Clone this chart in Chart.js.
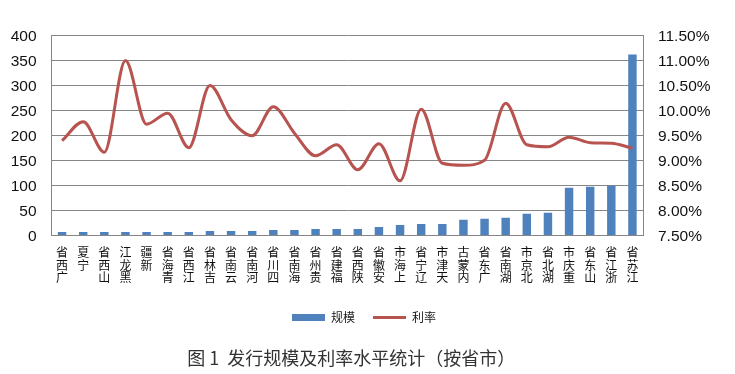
<!DOCTYPE html>
<html>
<head>
<meta charset="utf-8">
<style>
  html, body { margin: 0; padding: 0; background: #fff; }
  canvas { display: block; }
</style>
<script src="https://cdn.jsdelivr.net/npm/chart.js@4"></script>
</head>
<body>
<canvas id="chart" width="735" height="374"></canvas>
<script>
// Provinces, ordered by issue size
const categories = [
    "广西省", "宁夏", "山西省", "黑龙江", "新疆", "青海省", "江西省",
    "吉林省", "云南省", "河南省", "四川省", "海南省", "贵州省", "福建省",
    "陕西省", "安徽省", "上海市", "辽宁省", "天津市", "内蒙古", "广东省",
    "湖南省", "北京市", "湖北省", "重庆市", "山东省", "浙江省", "江苏省"
];

// 规模, left axis
const scaleValues = [
    7, 7, 7, 7, 7, 7, 7, 9, 9, 9, 11, 11, 13, 13,
    13, 17, 21, 23, 23, 31, 33, 35, 43, 45, 95, 97, 99, 361
];

// 利率 in percent, right axis
const rateValues = [
    9.39, 9.77, 9.16, 10.99, 9.72, 9.94, 9.25, 10.49, 9.81, 9.49, 10.07, 9.54, 9.09, 9.31,
    8.81, 9.33, 8.59, 10.02, 8.94, 8.90, 9.00, 10.14, 9.31, 9.27, 9.46, 9.35, 9.34, 9.24
];

const GRID = "#868686";
const TICK_FONT = { family: "'Liberation Sans', sans-serif", size: 15.5 };
const CJK = "'Noto Sans CJK SC', sans-serif";

new Chart(document.getElementById("chart"), {
    data: {
        labels: categories,
        datasets: [
            {
                type: "line",
                label: "利率",
                data: rateValues,
                yAxisID: "y2",
                borderColor: "#B85450",
                borderWidth: 3,
                cubicInterpolationMode: "monotone",
                pointRadius: 0,
                pointStyle: "line",
                pointBorderColor: "#B85450",
                pointBorderWidth: 3,
                order: 1,
            },
            {
                type: "bar",
                label: "规模",
                data: scaleValues,
                yAxisID: "y",
                backgroundColor: "#4F81BD",
                pointStyle: "rect",
                categoryPercentage: 1,
                barPercentage: 0.4,
                order: 2,
            },
        ],
    },
    options: {
        responsive: false,
        animation: false,
        layout: { padding: { top: 35, right: 7, bottom: 5 } },
        plugins: {
            tooltip: { enabled: false },
            legend: {
                position: "bottom",
                reverse: true,
                labels: {
                    usePointStyle: true,
                    pointStyleWidth: 33,
                    boxHeight: 7,
                    color: "#1a1a1a",
                    font: { family: CJK, size: 12 },
                    padding: 18,
                },
            },
            title: {
                display: true,
                position: "bottom",
                fullSize: false,
                // leading spaces nudge the centred text to the right
                text: "  图 1  发行规模及利率水平统计（按省市）",
                color: "#333",
                font: { family: CJK, size: 18, weight: "normal" },
                padding: { top: 14, bottom: 0 },
            },
        },
        scales: {
            x: {
                grid: { display: false, drawTicks: false },
                border: { color: GRID },
                afterFit: (s) => { s.height = 58; },
                ticks: {
                    autoSkip: false,
                    maxRotation: 0,
                    minRotation: 0,
                    padding: 11,
                    color: "#111",
                    font: { family: CJK, size: 12, lineHeight: 1.03 },
                    // one character per row, read from the bottom up as in the source
                    callback(value) {
                        return Array.from(this.getLabelForValue(value)).reverse();
                    },
                },
            },
            y: {
                position: "left",
                min: 0,
                max: 400,
                afterFit: (s) => { s.width = 51.5; },
                grid: { color: GRID, drawTicks: false },
                border: { color: GRID },
                ticks: { stepSize: 50, padding: 15, labelOffset: 1.5, color: "#111", font: TICK_FONT },
            },
            y2: {
                position: "right",
                min: 7.5,
                max: 11.5,
                afterFit: (s) => { s.width = 85; },
                grid: { display: false, drawTicks: false },
                border: { color: GRID },
                ticks: {
                    stepSize: 0.5,
                    padding: 15,
                    labelOffset: 1.5,
                    color: "#111",
                    font: TICK_FONT,
                    callback: (v) => v.toFixed(2) + "%",
                },
            },
        },
    },
});
</script>
</body>
</html>
